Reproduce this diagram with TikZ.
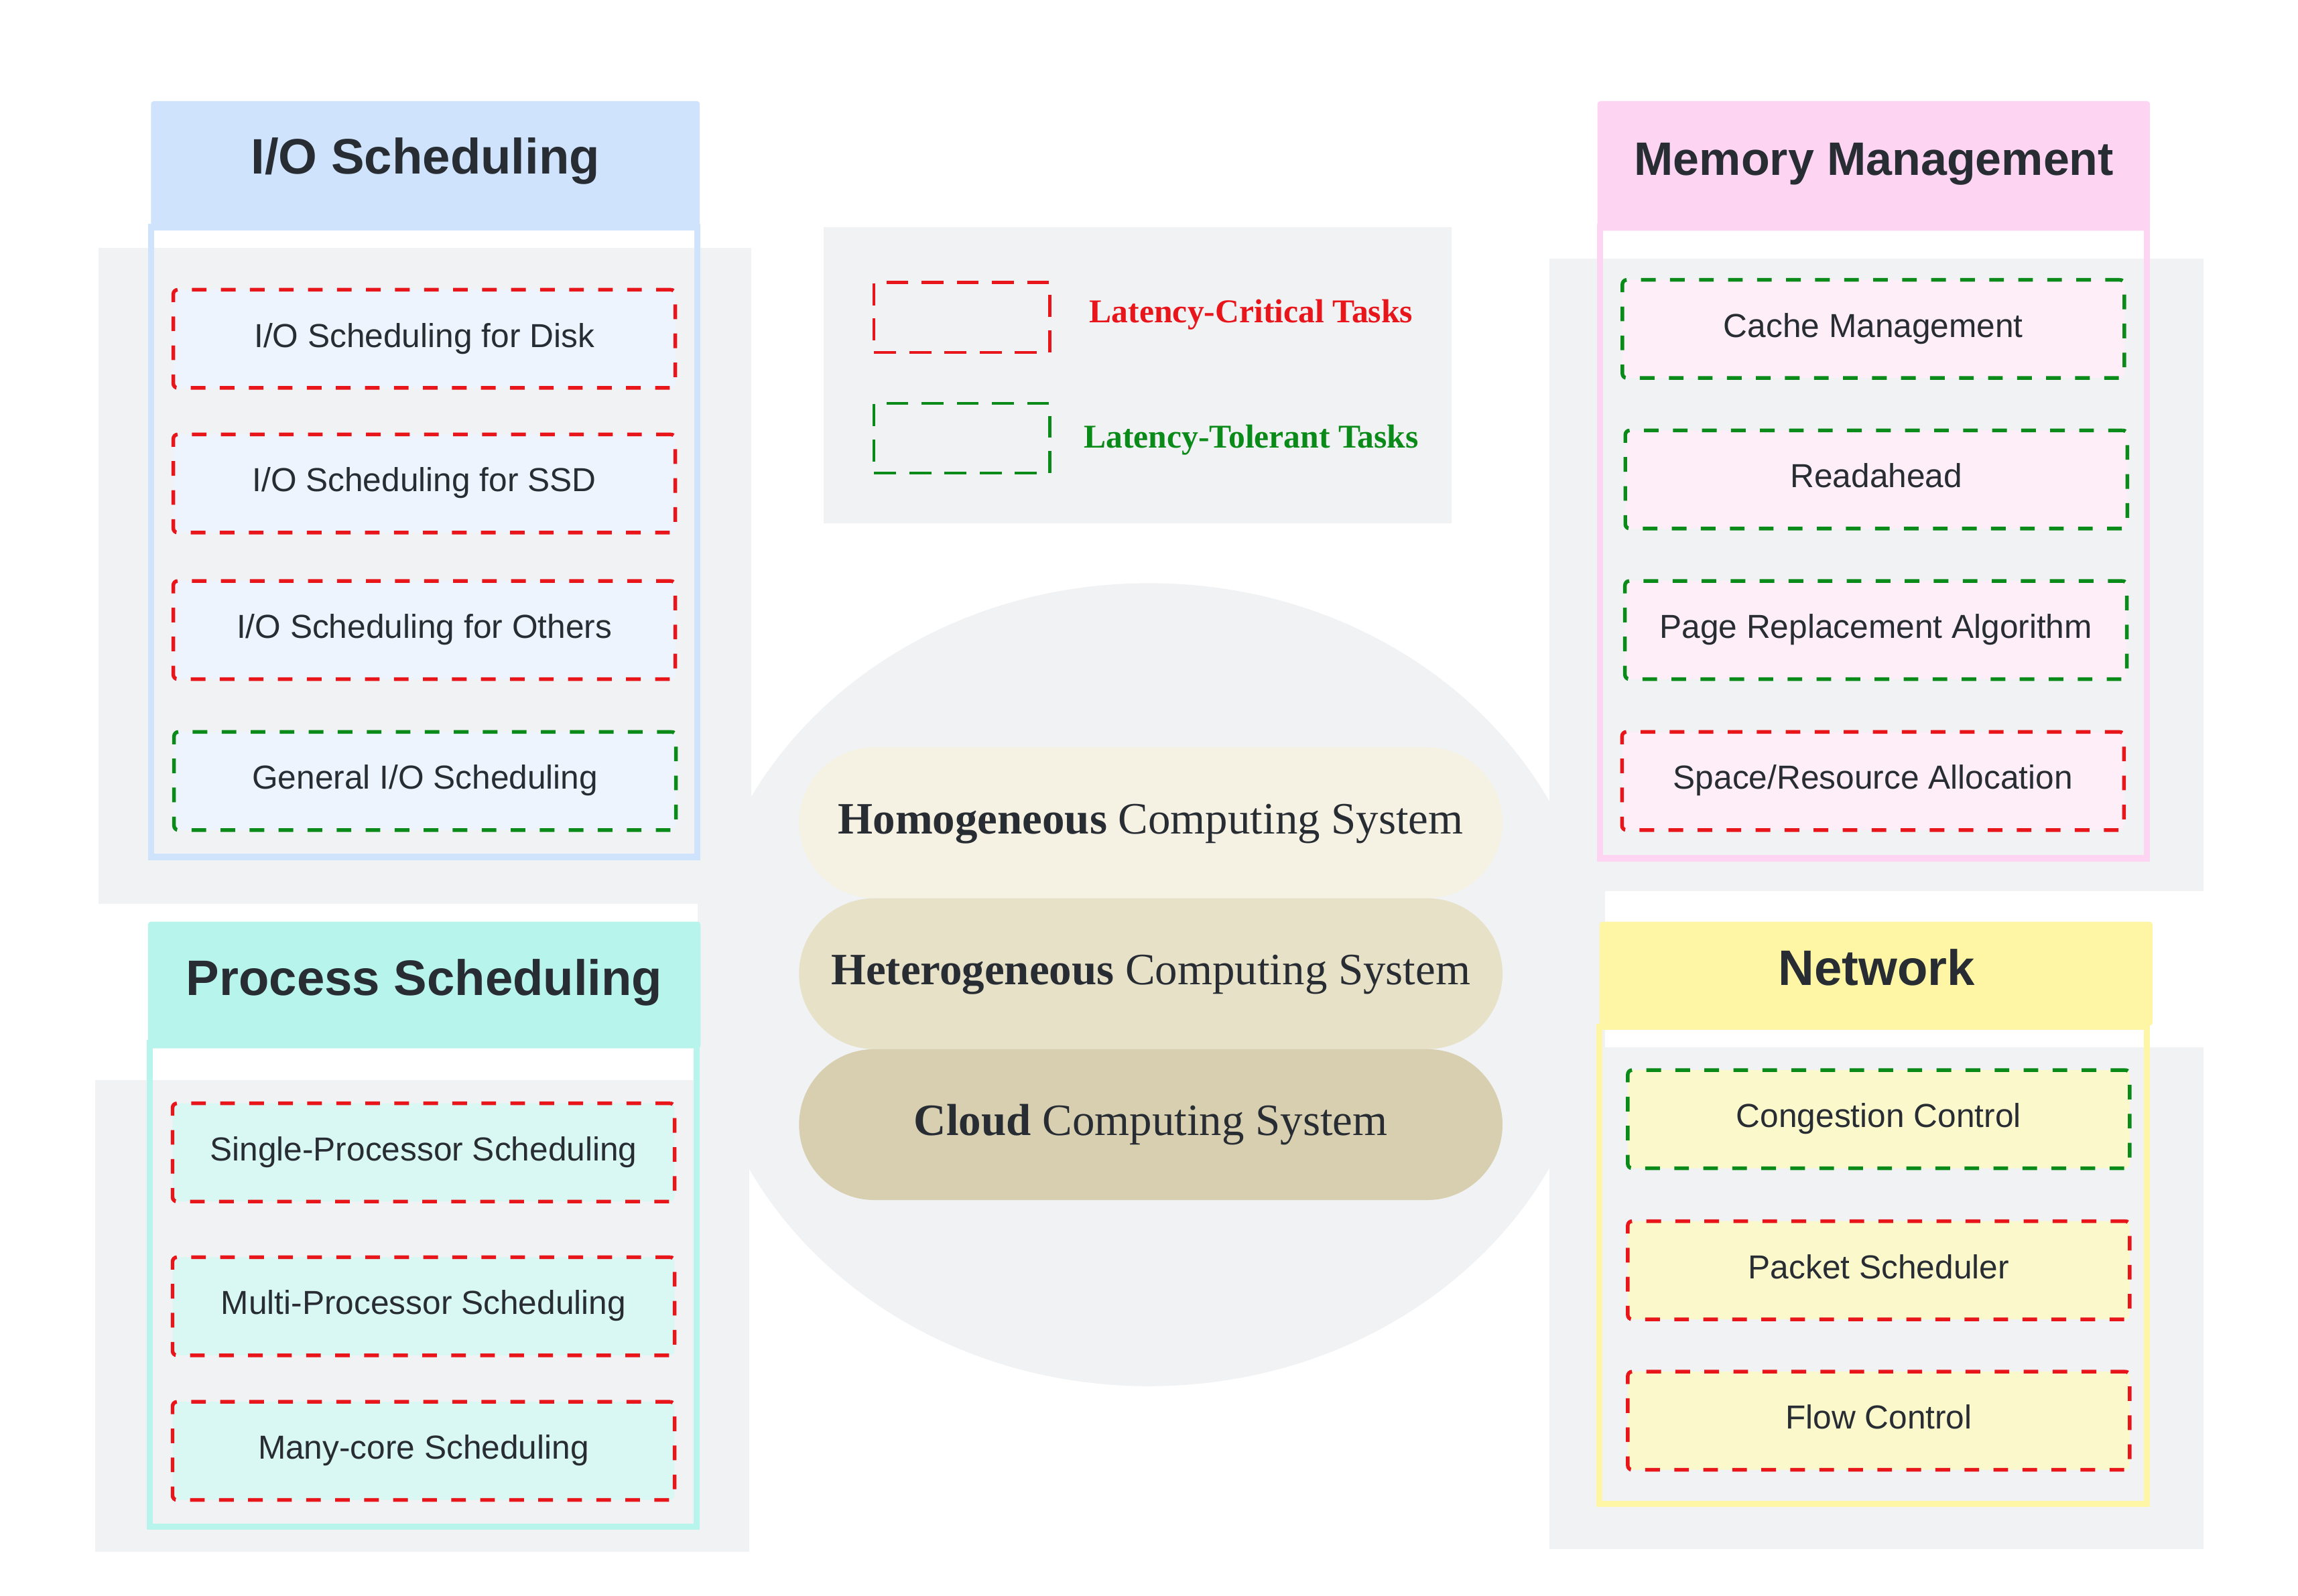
\documentclass[tikz,border=0pt]{standalone}
\usepackage{fontspec}
\setmainfont{Liberation Serif}
\setsansfont{Liberation Sans}
\definecolor{panelgrey}{HTML}{F1F2F4}
\definecolor{txt}{HTML}{282C33}
\definecolor{critred}{HTML}{E8151B}
\definecolor{tolgreen}{HTML}{0A8A18}
\definecolor{ioHead}{HTML}{CFE3FC}
\definecolor{ioFill}{HTML}{EDF4FD}
\definecolor{psHead}{HTML}{B7F4EC}
\definecolor{psFill}{HTML}{D9F8F3}
\definecolor{mmHead}{HTML}{FDD5F3}
\definecolor{mmFill}{HTML}{FDEEF8}
\definecolor{nwHead}{HTML}{FEF6A4}
\definecolor{nwFill}{HTML}{FBF9CC}
\definecolor{pillA}{HTML}{F5F2E3}
\definecolor{pillB}{HTML}{E7E1C8}
\definecolor{pillC}{HTML}{D7CFB0}
\begin{document}
\begin{tikzpicture}[x=1pt,y=-1pt,
  panel/.style={fill=panelgrey},
  frame/.style={draw=#1, line width=4.3pt},
  header/.style={fill=#1, rounded corners=2pt},
  title/.style={font=\sffamily\bfseries\fontsize{34}{40}\selectfont, text=txt,
    inner sep=0pt, text height=24.3pt, text depth=0pt},
  item/.style={draw=#1, line width=2.5pt, dash pattern=on 10pt off 9.8pt,
    rounded corners=3pt, minimum width=342.5pt, minimum height=67pt, inner sep=0pt,
    font=\sffamily\fontsize{22.7}{27}\selectfont, text=txt,
    text height=16.25pt, text depth=5pt},
  pill/.style={fill=#1, rounded corners=51.5pt, minimum width=480pt, minimum height=103pt,
    inner sep=0pt, font=\fontsize{30.6}{36}\selectfont, text=txt,
    text height=20.3pt, text depth=5.5pt},
  legbox/.style={draw=#1, line width=2pt, dash pattern=on 15pt off 9pt,
    minimum width=119.9pt, minimum height=47.6pt, inner sep=0pt},
  legtext/.style={font=\bfseries\fontsize{22.7}{27}\selectfont, text=#1, inner sep=0pt, anchor=base}
]
\useasboundingbox (0,0) rectangle (1568,1088.8);
\fill[white] (0,0) rectangle (1568,1088.8);

% central ellipse
\fill[panelgrey] (784,672) ellipse [x radius=307pt, y radius=274pt];
\fill[panelgrey] (476,600) rectangle (520,745);
\fill[panelgrey] (1050,600) rectangle (1095,720);

% grey panels
\fill[panel] (67,169) rectangle (512.5,617);
\fill[panel] (65,737) rectangle (511,1059);
\fill[panel] (1057.3,176.4) rectangle (1503.3,608);
\fill[panel] (1057,714.7) rectangle (1503.3,1057.3);
\fill[panel] (562,155) rectangle (990.5,357);

% frames
\draw[frame=ioHead] (103.05,155) rectangle (475.75,584.85);
\draw[frame=psHead] (102.15,712) rectangle (475.25,1041.85);
\draw[frame=mmHead] (1091.65,155) rectangle (1464.85,585.85);
\draw[frame=nwHead] (1091.15,700.65) rectangle (1464.85,1026.45);

% headers
\fill[header=ioHead] (103,69) rectangle (477.5,157);
\fill[header=mmHead] (1090,69) rectangle (1467,157.5);
\fill[header=psHead] (101,629) rectangle (478,715.5);
\fill[header=nwHead] (1091.5,629) rectangle (1468.7,700);

\node[title] (tio) at (290.3,106.3) {I/O Scheduling};
\node[title, font=\sffamily\bfseries\fontsize{32}{38}\selectfont, text height=22.9pt] (tmm) at (1278.7,108) {Memory Management};
\node[title] (tps) at (289.5,667.3) {Process Scheduling};
\node[title] (tnw) at (1280.5,660.2) {Network};

% I/O items
\node[item=critred, fill=ioFill] (io1) at (289.5,231.25) {I/O Scheduling for Disk};
\node[item=critred, fill=ioFill] (io2) at (289.5,330) {I/O Scheduling for SSD};
\node[item=critred, fill=ioFill] (io3) at (289.5,430) {I/O Scheduling for Others};
\node[item=tolgreen, fill=ioFill] (io4) at (290,533) {General I/O Scheduling};

% Process items
\node[item=critred, fill=psFill] (ps1) at (289,786.5) {Single-Processor Scheduling};
\node[item=critred, fill=psFill] (ps2) at (289,891.5) {Multi-Processor Scheduling};
\node[item=critred, fill=psFill] (ps3) at (289,990.2) {Many-core Scheduling};

% Memory items
\node[item=tolgreen, fill=mmFill] (mm1) at (1278.25,224.5) {Cache Management};
\node[item=tolgreen, fill=mmFill] (mm2) at (1280.25,327.25) {Readahead};
\node[item=tolgreen, fill=mmFill] (mm3) at (1280,430) {Page Replacement Algorithm};
\node[item=critred, fill=mmFill] (mm4) at (1278,533) {Space/Resource Allocation};

% Network items
\node[item=tolgreen, fill=nwFill] (nw1) at (1281.9,763.8) {Congestion Control};
\node[item=critred, fill=nwFill] (nw2) at (1281.9,866.9) {Packet Scheduler};
\node[item=critred, fill=nwFill] (nw3) at (1281.9,969.6) {Flow Control};

% central pills
\node[pill=pillA] (homo) at (785.2,561.5) {\textbf{Homogeneous} Computing System};
\node[pill=pillB] (hetero) at (785.2,664.5) {\textbf{Heterogeneous} Computing System};
\node[pill=pillC] (cloud) at (785.2,767.5) {\textbf{Cloud} Computing System};

% legend
\node[legbox=critred] (legcrit) at (656.35,216.6) {};
\node[legbox=tolgreen] (legtol) at (656.35,299.1) {};
\node[legtext=critred] (legcritt) at (853.7,220.3) {Latency-Critical Tasks};
\node[legtext=tolgreen] (legtolt) at (853.7,305.6) {Latency-Tolerant Tasks};
\end{tikzpicture}
\end{document}
